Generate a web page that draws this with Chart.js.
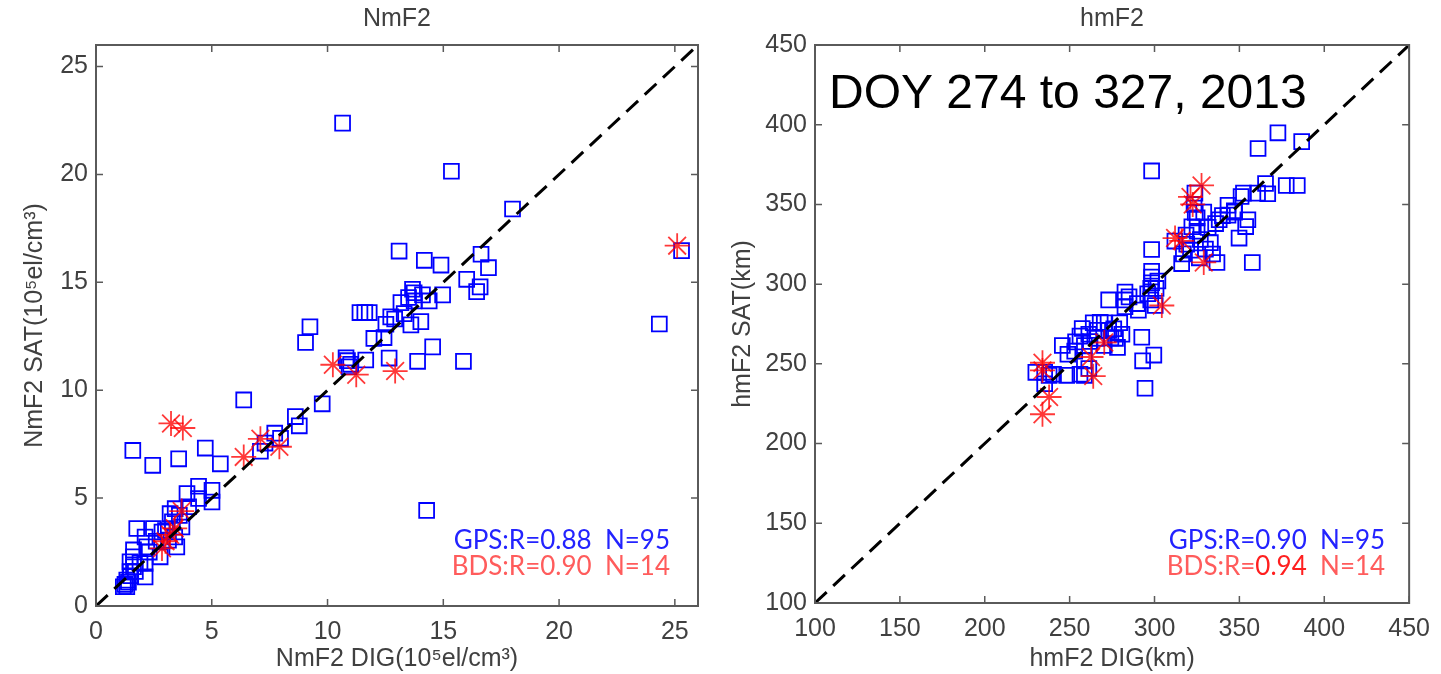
<!DOCTYPE html>
<html>
<head>
<meta charset="utf-8">
<script src="https://cdn.jsdelivr.net/npm/chart.js@4"></script>
<style>
body { margin: 0; background: #fff; }
#wrap { position: relative; width: 1441px; height: 674px; }
#nmChart { position: absolute; left: 0; top: 0; }
#hmChart { position: absolute; left: 720px; top: 0; }
</style>
</head>
<body>
<div id="wrap">
  <canvas id="nmChart" width="720" height="674"></canvas>
  <canvas id="hmChart" width="721" height="674"></canvas>
</div>
<script>
// NmF2 (10^5 el/cm^3), DIG on x, SAT on y
const nmGpsDig = [10.65,15.35,17.99,25.29,24.33,14.28,
  13.09,14.18,14.9,16.63,16.95,16.01,16.59,16.44,13.67,13.74,14.1,14.97,13.17,13.74,14.39,11.4,11.61,11.8,12.73,13.31,13.6,14.03,12.52,12.44,9.24,9.05,14.54,12.66,13.89,15.87,10.86,11.65,10.93,9.77,
  6.38,8.61,8.78,7.72,7.97,7.30,7.1,
  1.59,2.45,3.57,4.72,5.37,3.93,4.43,5.01,4.43,5.01,3.42,3.2,3.71,1.76,2.48,2.12,2.85,3.13,3.49,2.19,2.77,1.62,2.12,1.62,2.12,1.47,1.33,1.33,1.18,1.47,1.62,
  1.25,1.4,1.5,1.7,1.9,2.3,2.6,3.0,3.3,3.6,4.0,12.0,12.9,13.5,11.0,10.8,3.4];
const nmGpsSat = [22.38,20.15,18.4,16.47,13.07,4.43,
  16.45,16.02,15.8,16.3,15.68,15.14,14.79,14.57,14.68,14.52,14.42,14.42,14.06,14.14,14.14,13.6,13.6,13.6,13.4,13.55,13.03,13.18,13.06,12.44,12.94,12.21,12.01,11.49,11.34,11.34,11.37,11.4,11.09,9.37,
  9.55,8.78,8.35,8.01,7.77,7.55,7.17,
  7.21,6.52,6.82,7.32,6.59,5.21,5.55,5.36,4.98,4.82,4.51,4.28,3.66,3.59,3.59,3.2,3.43,3.05,2.74,2.74,2.28,2.28,1.97,1.82,1.35,1.59,1.2,0.89,0.89,2.05,2.6,
  1.0,1.1,1.4,1.6,2.0,2.5,3.0,3.5,3.9,4.2,4.6,12.4,13.3,14.3,11.2,11.5,3.2];
const nmBdsDig = [3.24,3.75,6.38,7.1,7.92,10.23,11.24,12.92,25.1,3.7,3.2,2.85,3.4,3.0];
const nmBdsSat = [8.46,8.25,6.91,7.75,7.38,11.18,10.72,10.89,16.7,4.4,3.3,2.67,3.6,3.0];
const nmTicks = [0, 5, 10, 15, 20, 25];
const nmRange = [0, 26];

// hmF2 (km)
const hmGpsDig = [372.7,386.7,361,298.3,365.4,377.6,384.1,366.7,352.4,360.7,323.8,323.3,343.3,347.2,343.3,338.1,355,353.7,349.8,357.6,
  329,325.1,331.6,325.1,318.6,332.9,334.2,336.8,316,326.4,321.2,298.3,298.3,298.3,298.3,297.8,300.9,297.8,300.4,273,
  282.6,282.6,282.6,289.9,290.5,292.5,293,299.6,294.4,279.5,280.8,278.2,270.4,263.9,257.4,256.1,253.5,261.3,266.5,273,
  274.3,270.4,245.7,258.7,258.7,261.3,256.1,248.3,240.5,235.3,230.1,235.3,237.9,258.7,
  319,322,327,330,312,324,336,340,347,351,262,266,268,276,253,285,317,302,296,277,249];
const hmGpsSat = [394.9,389.4,385.1,371,363.1,361.9,361.9,356.7,357.1,357.1,357.1,350,349.5,345.2,343.3,340.4,340.4,336.1,328.9,313.6,
  345.2,341.6,335.6,333.2,330.8,326,318.9,313.6,312.9,316.5,321.3,321.7,308.1,304.5,300.9,297.3,297.3,290.1,286.6,290.1,
  295,290.1,285.9,287.8,283.7,266.7,251.9,255.5,234.7,275.8,268.6,260.3,275.8,275.8,272.2,267.4,263.8,268.6,271,271,
  266.2,261.5,261.5,261.5,251.9,247.1,243.5,242.8,243.5,244.7,244.7,237.5,242.8,242.8,
  325,336,328,322,327,345,338,343,346,355,264,266,276,272,258,292,319,302,294,266,256];
const hmBdsDig = [327.7,321.2,322.5,312.1,316,329,304.3,270.4,262.6,263.9,234,234,237.9,234];
const hmBdsSat = [361.9,354.7,350,328.9,327.2,313.6,286.6,263.4,254.3,242.3,250.7,245.9,229.2,218.4];
const hmTicks = [100, 150, 200, 250, 300, 350, 400, 450];
const hmRange = [100, 450];

const nmStats = [
  [{ text: 'GPS:R=0.88  N=95', color: '#2323ff' }],
  [{ text: 'BDS:R=0.90  N=14', color: '#ff5c5c' }]
];
const hmStats = [
  [{ text: 'GPS:R=0.90  N=95', color: '#2323ff' }],
  [{ text: 'BDS:R=', color: '#ff5c5c' }, { text: '0.94', color: '#ff1f1f' }, { text: '  N=14', color: '#ff5c5c' }]
];

Chart.defaults.font.family = "'Liberation Sans', Arial, sans-serif";
Chart.defaults.color = '#404040';

const toPoints = (xs, ys) => xs.map((v, i) => ({ x: v, y: ys[i] }));

// box round the plot with inward ticks on all four sides
const boxPlugin = {
  id: 'boxTicks',
  afterDraw(chart) {
    const { ctx, chartArea: a, scales: { x, y } } = chart;
    ctx.save();
    ctx.strokeStyle = '#5a5a5a';
    ctx.lineWidth = 2;
    ctx.strokeRect(a.left, a.top, a.right - a.left, a.bottom - a.top);
    ctx.lineWidth = 1.5;
    ctx.beginPath();
    x.ticks.forEach(t => {
      const p = x.getPixelForValue(t.value);
      ctx.moveTo(p, a.bottom); ctx.lineTo(p, a.bottom - 7);
      ctx.moveTo(p, a.top); ctx.lineTo(p, a.top + 7);
    });
    y.ticks.forEach(t => {
      const p = y.getPixelForValue(t.value);
      ctx.moveTo(a.left, p); ctx.lineTo(a.left + 7, p);
      ctx.moveTo(a.right, p); ctx.lineTo(a.right - 7, p);
    });
    ctx.stroke();
    ctx.restore();
  }
};

// R / N text and the date note
const textPlugin = {
  id: 'statsText',
  afterDatasetsDraw(chart, args, opts) {
    const ctx = chart.ctx, a = chart.chartArea;
    ctx.save();
    ctx.textBaseline = 'alphabetic';
    ctx.font = "26px Lato, 'Liberation Sans', sans-serif";
    opts.lines.forEach((parts, i) => {
      let x = a.right - opts.right;
      for (let j = parts.length - 1; j >= 0; j--) {
        const w = ctx.measureText(parts[j].text).width;
        x -= w;
        ctx.fillStyle = parts[j].color;
        ctx.fillText(parts[j].text, x, a.bottom - opts.bottom[i]);
      }
    });
    if (opts.note) {
      ctx.font = "48px 'Liberation Sans', Arial, sans-serif";
      ctx.fillStyle = '#000';
      ctx.fillText(opts.note, a.left + 14, a.top + 63);
    }
    ctx.restore();
  }
};

function makeChart(id, cfg) {
  const line = [cfg.range[0], cfg.range[1]];
  return new Chart(document.getElementById(id), {
    type: 'scatter',
    data: {
      datasets: [
        {
          type: 'line', data: toPoints(line, line), order: 0, xAxisID: 'x', yAxisID: 'y',
          borderColor: '#000', borderWidth: 3, borderDash: [16, 9],
          pointRadius: 0, fill: false
        },
        {
          data: toPoints(cfg.bdsX, cfg.bdsY), order: 1, xAxisID: 'x', yAxisID: 'y',
          pointStyle: 'star', pointRadius: 12.5, pointBorderWidth: 1.8,
          borderColor: 'rgba(255,0,0,0.78)', backgroundColor: 'rgba(255,0,0,0.78)'
        },
        {
          data: toPoints(cfg.gpsX, cfg.gpsY), order: 2, xAxisID: 'x', yAxisID: 'y',
          pointStyle: 'rect', pointRadius: 10.5, pointBorderWidth: 1.8,
          borderColor: '#0000ff', backgroundColor: 'rgba(0,0,0,0)'
        }
      ]
    },
    options: {
      responsive: false,
      animation: false,
      layout: { padding: { left: 0, right: cfg.padRight, top: 0, bottom: 0 } },
      plugins: {
        legend: { display: false },
        tooltip: { enabled: false },
        title: { display: false },
        statsText: { lines: cfg.stats, right: cfg.statsRight, bottom: cfg.statsBottom, note: cfg.note }
      },
      scales: {
        x: {
          type: 'linear', position: 'bottom', min: cfg.range[0], max: cfg.range[1],
          grid: { display: false, drawTicks: false },
          border: { display: false },
          afterBuildTicks: s => { s.ticks = cfg.ticks.map(v => ({ value: v })); },
          afterFit: s => { s.height = cfg.xHeight; },
          ticks: { font: { size: 25 }, padding: 11, maxRotation: 0, color: '#404040' },
          title: { display: true, text: cfg.xTitle, font: { size: 25 }, padding: { top: 0, bottom: 0 }, color: '#404040' }
        },
        y: {
          type: 'linear', position: 'left', min: cfg.range[0], max: cfg.range[1],
          grid: { display: false, drawTicks: false },
          border: { display: false },
          afterBuildTicks: s => { s.ticks = cfg.ticks.map(v => ({ value: v })); },
          afterFit: s => { s.width = cfg.yWidth; },
          ticks: { font: { size: 25 }, padding: 8, color: '#404040' },
          title: { display: true, text: cfg.yTitle, font: { size: 25 }, padding: { top: cfg.yTitlePad, bottom: 0 }, color: '#404040' }
        },
        // top axis only carries the panel title, so it sits centred over the plot box
        top: {
          type: 'linear', position: 'top', min: cfg.range[0], max: cfg.range[1],
          grid: { display: false, drawTicks: false },
          border: { display: false },
          ticks: { display: false },
          afterFit: s => { s.height = 45; },
          title: { display: true, text: cfg.title, font: { size: 25 }, padding: { top: 4, bottom: 0 }, color: '#404040' }
        }
      }
    },
    plugins: [boxPlugin, textPlugin]
  });
}

makeChart('nmChart', {
  gpsX: nmGpsDig, gpsY: nmGpsSat, bdsX: nmBdsDig, bdsY: nmBdsSat,
  ticks: nmTicks, range: nmRange, title: 'NmF2',
  xTitle: 'NmF2 DIG(10⁵el/cm³)', yTitle: 'NmF2 SAT(10⁵el/cm³)',
  padRight: 22, xHeight: 68, yWidth: 96, yTitlePad: 20,
  stats: nmStats, statsRight: 28, statsBottom: [57, 31]
});

makeChart('hmChart', {
  gpsX: hmGpsDig, gpsY: hmGpsSat, bdsX: hmBdsDig, bdsY: hmBdsSat,
  ticks: hmTicks, range: hmRange, title: 'hmF2',
  xTitle: 'hmF2 DIG(km)', yTitle: 'hmF2 SAT(km)',
  padRight: 25, xHeight: 71, yWidth: 95, yTitlePad: 8,
  stats: hmStats, statsRight: 24, statsBottom: [54, 28],
  note: 'DOY 274 to 327, 2013'
});
</script>
</body>
</html>
